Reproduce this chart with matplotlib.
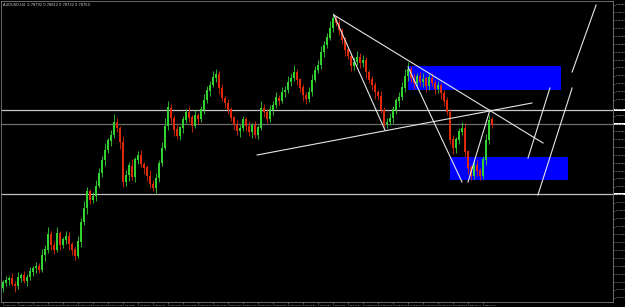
"""
AUDUSD H4 chart with zones and trend lines (MT4 style, black background)
"""

import numpy as np
import matplotlib.pyplot as plt
from matplotlib.patches import Rectangle

# close prices, one per bar (open = previous close)
first_open = 0.7712
closes = [
    0.7717, 0.7720, 0.7722, 0.7716, 0.7714, 0.7722, 0.7725, 0.7719, 0.7723, 0.7728,
    0.7732, 0.7734, 0.7730, 0.7745, 0.7750, 0.7766, 0.7755, 0.7750, 0.7767, 0.7755,
    0.7760, 0.7764, 0.7756, 0.7750, 0.7744, 0.7758, 0.7778, 0.7792, 0.7808, 0.7800,
    0.7804, 0.7814, 0.7827, 0.7840, 0.7850, 0.7859, 0.7865, 0.7878, 0.7872, 0.7858,
    0.7818, 0.7825, 0.7834, 0.7823, 0.7840, 0.7845, 0.7836, 0.7832, 0.7824, 0.7816,
    0.7812, 0.7822, 0.7837, 0.7852, 0.7874, 0.7892, 0.7882, 0.7870, 0.7864, 0.7872,
    0.7880, 0.7888, 0.7882, 0.7874, 0.7885, 0.7881, 0.7890, 0.7900, 0.7909, 0.7915,
    0.7922, 0.7926, 0.7912, 0.7902, 0.7897, 0.7890, 0.7882, 0.7875, 0.7869, 0.7872,
    0.7880, 0.7874, 0.7868, 0.7875, 0.7865, 0.7872, 0.7892, 0.7888, 0.7881, 0.7890,
    0.7895, 0.7902, 0.7899, 0.7908, 0.7910, 0.7918, 0.7922, 0.7928, 0.7920, 0.7912,
    0.7905, 0.7901, 0.7908, 0.7920, 0.7930, 0.7935, 0.7948, 0.7955, 0.7962, 0.7972,
    0.7981, 0.7977, 0.7970, 0.7960, 0.7950, 0.7944, 0.7934, 0.7938, 0.7943, 0.7937,
    0.7940, 0.7928, 0.7920, 0.7915, 0.7908, 0.7904, 0.7890, 0.7876, 0.7878, 0.7882,
    0.7890, 0.7899, 0.7903, 0.7912, 0.7924, 0.7930, 0.7922, 0.7917, 0.7924, 0.7918,
    0.7921, 0.7914, 0.7922, 0.7917, 0.7911, 0.7915, 0.7907, 0.7899, 0.7888, 0.7860,
    0.7852, 0.7860, 0.7868, 0.7872, 0.7848, 0.7832, 0.7824, 0.7835, 0.7829, 0.7824,
    0.7840, 0.7860, 0.7880, 0.7875,
]
# wick sizes in pips
upper_wick = [
    3, 4, 2, 5, 3, 6, 2, 4, 3, 5, 2, 4, 3, 6, 5, 7, 3, 4, 6, 2,
    3, 5, 4, 2, 3, 6, 4, 7, 5, 3, 4, 6, 5, 4, 7, 3, 5, 8, 4, 2,
    6, 5, 4, 7, 3, 4, 5, 2, 3, 6, 4, 5, 3, 6, 8, 7, 4, 3, 5, 2,
    4, 3, 6, 3, 5, 2, 4, 6, 5, 4, 7, 5, 3, 4, 2, 4, 3, 2, 5, 3,
    4, 3, 5, 2, 4, 3, 7, 4, 3, 5, 4, 6, 3, 5, 4, 6, 5, 7, 3, 2,
    4, 3, 5, 6, 4, 5, 6, 4, 5, 7, 6, 3, 4, 2, 3, 4, 3, 5, 6, 4,
    5, 3, 2, 4, 3, 2, 5, 3, 4, 5, 4, 3, 5, 6, 7, 8, 4, 5, 3, 4,
    6, 3, 4, 5, 3, 4, 2, 3, 4, 3, 5, 3, 4, 6, 5, 2, 3, 4, 5, 3,
    4, 6, 5, 3,
]
lower_wick = [
    4, 3, 5, 2, 6, 3, 4, 2, 5, 3, 4, 5, 3, 2, 6, 3, 5, 4, 2, 5,
    3, 4, 6, 5, 4, 2, 5, 3, 6, 4, 3, 5, 2, 4, 6, 3, 5, 3, 4, 7,
    5, 4, 6, 3, 5, 4, 3, 6, 5, 4, 3, 5, 4, 3, 2, 4, 5, 6, 3, 4,
    5, 3, 4, 6, 2, 5, 3, 4, 3, 5, 2, 4, 6, 3, 5, 4, 3, 5, 4, 6,
    3, 5, 4, 6, 3, 4, 2, 5, 4, 3, 5, 3, 4, 2, 5, 3, 4, 3, 5, 4,
    6, 5, 3, 4, 2, 3, 4, 5, 3, 2, 4, 3, 5, 4, 6, 3, 5, 4, 3, 5,
    4, 6, 3, 5, 7, 4, 3, 5, 4, 3, 5, 4, 6, 3, 4, 5, 4, 6, 3, 4,
    5, 6, 4, 3, 5, 4, 6, 5, 3, 4, 6, 5, 4, 3, 5, 6, 4, 3, 5, 4,
    3, 5, 4, 3,
]

# horizontal levels
levels = [0.7890, 0.7876, 0.7806]
level_colors = ['#c8c8c8', '#6e6e6e', '#c0c0c0']

# supply / demand zones: (bar start, bar end, price low, price high)
zones = [(135, 186, 0.7910, 0.7934), (149, 188.3, 0.7820, 0.7843)]

# trend lines: (bar1, price1, bar2, price2)
trend_lines = [
    (110.3, 0.7985, 180.0, 0.7857),
    (110.3, 0.7985, 127.3, 0.7870),
    (84.7, 0.7845, 176.3, 0.7897),
    (135.0, 0.7933, 153.0, 0.7818),
    (155.0, 0.7818, 162.3, 0.7890),
    (175.0, 0.7842, 182.3, 0.7912),
    (178.3, 0.7805, 189.7, 0.7912),
    (189.7, 0.7928, 197.7, 0.7995),
]

date_labels = ["11 Dec 2017", "13 Dec 04:00", "15 Dec 00:00", "18 Dec 20:00", "20 Dec 16:00",
               "22 Dec 12:00", "27 Dec 08:00", "29 Dec 04:00", "2 Jan 2018", "4 Jan 20:00",
               "8 Jan 16:00", "10 Jan 12:00", "12 Jan 08:00", "16 Jan 04:00", "18 Jan 00:00",
               "19 Jan 20:00", "23 Jan 16:00", "25 Jan 12:00", "29 Jan 08:00", "31 Jan 04:00",
               "2 Feb 00:00", "5 Feb 20:00", "7 Feb 16:00", "9 Feb 12:00", "13 Feb 08:00",
               "15 Feb 04:00", "19 Feb 00:00", "20 Feb 20:00", "22 Feb 16:00", "26 Feb 12:00",
               "28 Feb 08:00", "2 Mar 04:00", "6 Mar 00:00"]

title = "AUDUSD,H4  0.78792 0.78812 0.78732 0.78750"

pip = 0.0001
closes = np.array(closes)
opens = np.concatenate([[first_open], closes[:-1]])
highs = np.maximum(opens, closes) + np.array(upper_wick) * pip
lows = np.minimum(opens, closes) - np.array(lower_wick) * pip
bars = np.arange(len(closes))
up = closes >= opens

fig = plt.figure(figsize=(6.25, 3.07), dpi=100, facecolor='black')
ax = fig.add_axes([1 / 625, 5 / 307, 612 / 625, 301 / 307])
ax.set_facecolor('black')

for x0, x1, p0, p1 in zones:
    ax.add_patch(Rectangle((x0, p0), x1 - x0, p1 - p0, color='#0000ff', lw=0, zorder=1))

for lv, c in zip(levels, level_colors):
    ax.axhline(lv, color=c, lw=0.9, zorder=2)

colors = np.where(up, '#32d232', '#e0280a')
ax.vlines(bars, lows, highs, colors=colors, lw=0.6, zorder=3)
ax.bar(bars, np.abs(closes - opens) + 0.00005, bottom=np.minimum(opens, closes),
       width=0.5, color=colors, lw=0, zorder=3)

for b1, p1, b2, p2 in trend_lines:
    ax.plot([b1, b2], [p1, p2], color='#e6e6e6', lw=0.8, zorder=4)

ax.set_xlim(-0.67, 203.33)
ax.set_ylim(0.7698, 0.7999)

ax.yaxis.tick_right()
yt = np.arange(0.79955, 0.7698, -0.000793)
# the level boxes cover the scale labels next to them
yt = [v for v in yt if min(abs(v - lv) for lv in levels) > 0.0004]
ax.set_yticks(yt)
ax.set_yticklabels(['%.5f' % v for v in yt])
ax.set_xticks(bars[::5][:len(date_labels)])
ax.set_xticklabels(date_labels, ha='left')
ax.tick_params(colors='#8c8c8c', labelcolor='#c8c8c8', length=1.5, width=0.4, pad=0.6)
ax.tick_params(axis='y', labelsize=1.7)
ax.tick_params(axis='x', labelsize=1.5)
for s in ax.spines.values():
    s.set_color('#7a7a7a')
    s.set_linewidth(0.6)

for lv in levels:
    ax.text(1.003, lv, '%.5f' % lv, transform=ax.get_yaxis_transform(), fontsize=1.7,
            color='black', va='center', ha='left',
            bbox=dict(facecolor='white', edgecolor='none', pad=0.3))

ax.text(0.004, 0.995, title, transform=ax.transAxes, fontsize=2.6, color='#d0d0d0',
        va='top', ha='left')

fig.savefig('out.png', dpi=100, facecolor='black')
